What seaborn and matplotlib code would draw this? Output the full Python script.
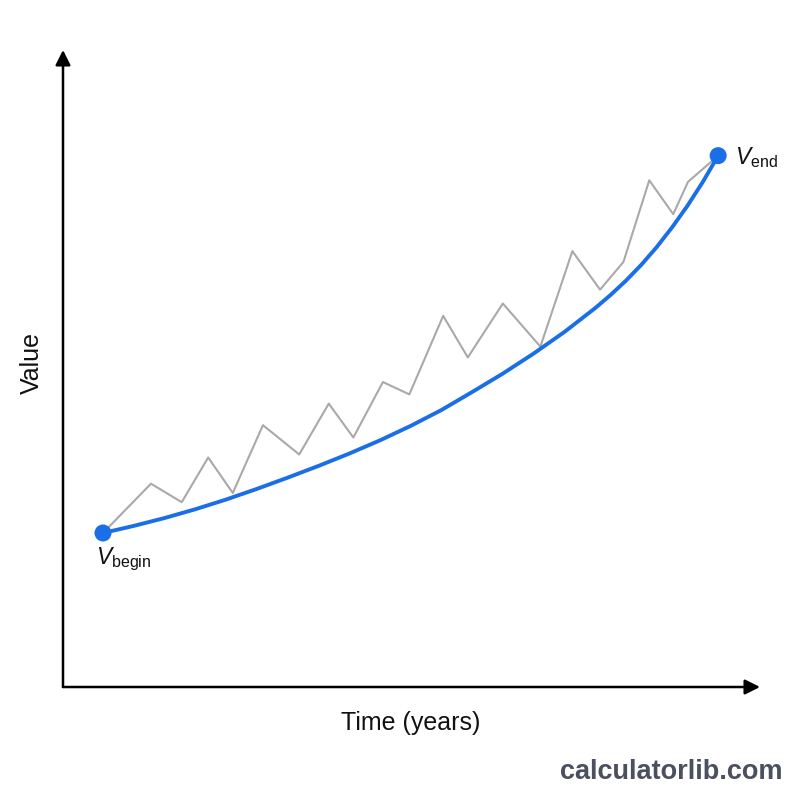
import numpy as np
import pandas as pd
import matplotlib
matplotlib.use("Agg")
import matplotlib.pyplot as plt
import seaborn as sns

# smooth growth curve
curve_years = [0, 0.5, 1, 1.5, 2, 2.5, 3, 3.5, 4, 4.5, 5, 5.5, 6, 6.5, 7, 7.5,
               8, 8.25, 8.5, 8.75, 9, 9.25, 9.5, 9.75, 10]
curve_values = [100, 104.6, 109.7, 115.4, 121.7, 128.6, 135.9, 143.5, 151.5,
                160.1, 169.5, 179.8, 191.5, 203.5, 216.5, 230.5, 246, 254.5,
                263.8, 274.1, 285.6, 298.4, 312.4, 327.9, 345]

# bumpy actual path
path_years = [0, 0.78, 1.28, 1.71, 2.11, 2.60, 3.19, 3.67, 4.07, 4.55, 4.98,
              5.53, 5.93, 6.50, 7.11, 7.63, 8.08, 8.46, 8.88, 9.27, 9.51, 10]
path_values = [100, 132, 120, 149, 126, 170, 151, 184, 162, 198, 190,
               241, 214, 249, 221, 283, 258, 276, 329, 307, 328, 345]

end_years = [0, 10]
end_values = [100, 345]
end_labels = [r"$V_{\mathrm{begin}}$", r"$V_{\mathrm{end}}$"]

BLUE = "#1a6ee6"
GRAY = "#a9a9a9"

sns.set_style("white")
plt.rcParams["font.family"] = ["Liberation Sans", "DejaVu Sans"]
plt.rcParams["mathtext.fontset"] = "custom"
plt.rcParams["mathtext.rm"] = "Liberation Sans"
plt.rcParams["mathtext.it"] = "Liberation Sans:italic"
plt.rcParams["text.color"] = "#111111"

curve = pd.DataFrame({"year": curve_years, "value": curve_values})
path = pd.DataFrame({"year": path_years, "value": path_values})
ends = pd.DataFrame({"year": end_years, "value": end_values})

fig = plt.figure(figsize=(8, 8), dpi=100)
ax = fig.add_axes([0.07875, 0.14125, 0.87125, 0.79625])

sns.lineplot(data=path, x="year", y="value", color=GRAY, linewidth=1.5,
             sort=False, ax=ax)
sns.lineplot(data=curve, x="year", y="value", color=BLUE, linewidth=2.8,
             sort=False, ax=ax)
sns.scatterplot(data=ends, x="year", y="value", color=BLUE, s=150,
                edgecolor="none", zorder=5, ax=ax)

ax.set_xlim(-0.65, 10.68)
ax.set_ylim(0, 413.6)
for s in ax.spines.values():
    s.set_visible(False)
ax.set_xticks([])
ax.set_yticks([])
ax.set_xlabel("")
ax.set_ylabel("")

# arrow axes
arrow = dict(arrowstyle="-|>,head_length=0.9,head_width=0.45", color="black",
             lw=1.8, shrinkA=0, shrinkB=0)
ax.annotate("", xy=(1, 0), xytext=(0, 0), xycoords="axes fraction",
            arrowprops=arrow, annotation_clip=False)
ax.annotate("", xy=(0, 1), xytext=(0, 0), xycoords="axes fraction",
            arrowprops=arrow, annotation_clip=False)

ax.text(end_years[0] - 0.12, end_values[0] - 8, end_labels[0], fontsize=16.5,
        ha="left", va="top")
ax.text(end_years[1] + 0.28, end_values[1] - 1, end_labels[1], fontsize=16.5,
        ha="left", va="center")

fig.text(0.5135, 0.096, "Time (years)", fontsize=18, ha="center", va="center")
fig.text(0.04, 0.546, "Value", fontsize=18, rotation=90, ha="center", va="center")
fig.text(0.978, 0.035, "calculatorlib.com", fontsize=19.5, fontweight="bold",
         color="#4a505e", ha="right", va="center")

fig.savefig("out.png", dpi=100, facecolor="white")
